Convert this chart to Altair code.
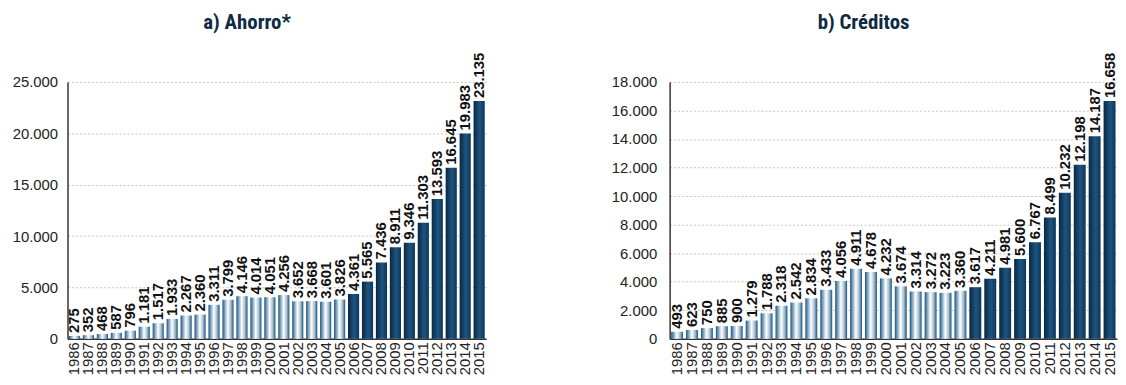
import altair as alt
import pandas as pd

years = [1986, 1987, 1988, 1989, 1990, 1991, 1992, 1993, 1994, 1995,
         1996, 1997, 1998, 1999, 2000, 2001, 2002, 2003, 2004, 2005,
         2006, 2007, 2008, 2009, 2010, 2011, 2012, 2013, 2014, 2015]
ahorro = [275, 352, 468, 587, 796, 1181, 1517, 1933, 2267, 2360,
          3311, 3799, 4146, 4014, 4051, 4256, 3652, 3668, 3601, 3826,
          4361, 5565, 7436, 8911, 9346, 11303, 13593, 16645, 19983, 23135]
creditos = [493, 623, 750, 885, 900, 1279, 1788, 2318, 2542, 2834,
            3433, 4056, 4911, 4678, 4232, 3674, 3314, 3272, 3223, 3360,
            3617, 4211, 4981, 5600, 6767, 8499, 10232, 12198, 14187, 16658]
titles = ["a) Ahorro*", "b) Créditos"]
split_year = 2005

FONT = "Liberation Sans, Arial, sans-serif"
TITLE_FONT = "Roboto Condensed, DejaVu Sans Condensed, Liberation Sans Narrow, sans-serif"

light_grad = alt.LinearGradient(
    gradient="linear", x1=0, x2=1, y1=0, y2=0,
    stops=[alt.GradientStop(offset=0, color="#17557f"),
           alt.GradientStop(offset=0.18, color="#6f97b6"),
           alt.GradientStop(offset=0.48, color="#ffffff"),
           alt.GradientStop(offset=0.75, color="#a9c0d2"),
           alt.GradientStop(offset=1, color="#17557f")])
dark_grad = alt.LinearGradient(
    gradient="linear", x1=0, x2=1, y1=0, y2=0,
    stops=[alt.GradientStop(offset=0, color="#0a2640"),
           alt.GradientStop(offset=0.55, color="#1d5580"),
           alt.GradientStop(offset=1, color="#0d3659")])


def fmt(v):
    return f"{v:,}".replace(",", ".")


def panel(values, title, ymax, step, width, dx, lab_pad):
    df = pd.DataFrame({
        "year": [str(y) for y in years],
        "yr": years,
        "value": values,
        "label": [fmt(v) for v in values],
    })
    base = alt.Chart(df).encode(
        x=alt.X("year:O", title=None,
                scale=alt.Scale(paddingInner=0.2, paddingOuter=0.1),
                axis=alt.Axis(labelAngle=270, labelFontSize=15, labelFont=FONT,
                              labelColor="#222222", labelPadding=3, ticks=False,
                              domainColor="#333333", domainWidth=1.5, grid=False)),
        y=alt.Y("value:Q", title=None,
                scale=alt.Scale(domain=[0, ymax], nice=False),
                axis=alt.Axis(values=list(range(0, ymax + 1, step)),
                              labelExpr="replace(format(datum.value, ','), ',', '.')",
                              labelFontSize=15, labelFont=FONT,
                              labelColor="#222222", labelPadding=lab_pad, ticks=False,
                              domainColor="#333333", domainWidth=1.5,
                              grid=True, gridColor="#c4c4c4", gridDash=[2, 2],
                              minExtent=60)),
    )
    light = base.mark_bar(fill=light_grad).transform_filter(f"datum.yr <= {split_year}")
    dark = base.mark_bar(fill=dark_grad).transform_filter(f"datum.yr > {split_year}")
    text = base.mark_text(angle=270, align="left", baseline="middle", dx=3,
                          fontWeight="bold", fontSize=15, font=FONT,
                          color="#111111").encode(text="label:N")
    return alt.layer(light, dark, text).properties(
        width=width, height=259,
        title=alt.TitleParams(title, fontSize=21, font=TITLE_FONT,
                              fontWeight="bold", color="#0f2a44", anchor="middle",
                              dx=dx, offset=20))


left = panel(ahorro, titles[0], 25000, 5000, 422, -30, 10)
right = panel(creditos, titles[1], 18000, 2000, 451, -30, 13)

chart = alt.hconcat(left, right, spacing=124).configure_view(stroke=None).properties(
    padding={"left": 0, "top": 2, "right": 0, "bottom": 0})

chart.save("out.html", embed_options={"renderer": "svg", "actions": False})
